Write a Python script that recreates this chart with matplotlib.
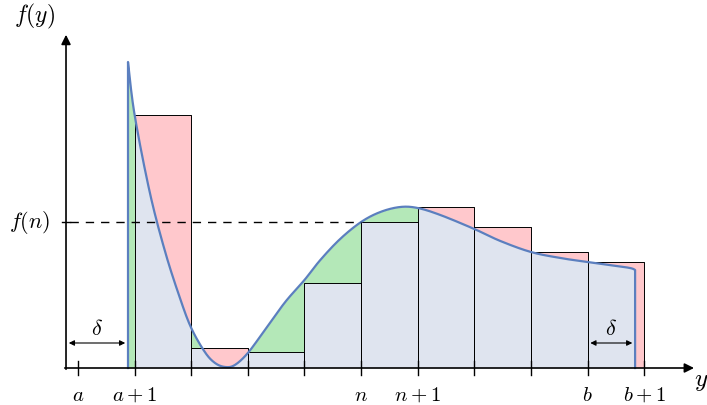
import numpy as np
import matplotlib.pyplot as plt

plt.rcParams['mathtext.fontset'] = 'cm'

# curve samples (x in integer units, f in arbitrary units)
cx = [1.883, 2.0, 2.27, 2.54, 2.80, 3.0, 3.24, 3.42, 3.60, 3.77, 4.0, 4.30, 4.66, 5.0,
      5.28, 5.63, 6.0, 6.34, 6.69, 7.0, 7.40, 8.0, 8.46, 9.0, 9.52, 10.0, 10.40, 10.75, 10.84]
cy = [3.06, 2.53, 1.75, 1.16, 0.70, 0.40, 0.16, 0.05, 0.01, 0.03, 0.15, 0.38, 0.66, 0.88,
      1.08, 1.29, 1.46, 1.56, 1.61, 1.60, 1.53, 1.39, 1.27, 1.16, 1.10, 1.06, 1.03, 1.00, 0.98]
rect_k = [2, 3, 4, 5, 6, 7, 8, 9, 10]
rect_h = [2.53, 0.20, 0.16, 0.85, 1.46, 1.61, 1.41, 1.16, 1.06]
tick_x = [1, 2, 3, 4, 5, 6, 7, 8, 9, 10, 11]
tick_lab = {1: '$a$', 2: '$a+1$', 6: '$n$', 7: '$n+1$', 10: '$b$', 11: '$b+1$'}
fn = 1.46

PINK, GREEN, BLUE, LINE = '#ffc8cc', '#b4e8b8', '#dfe4ef', '#5b7fbf'

def catmull(xs, ys, n=20):
    xs, ys = np.asarray(xs), np.asarray(ys)
    px = np.r_[xs[0], xs, xs[-1]]
    py = np.r_[ys[0], ys, ys[-1]]
    ox, oy = [], []
    for i in range(1, len(px) - 2):
        t = np.linspace(0, 1, n, endpoint=False)
        for p, o in ((px, ox), (py, oy)):
            p0, p1, p2, p3 = p[i-1], p[i], p[i+1], p[i+2]
            o.extend(0.5 * (2*p1 + (-p0+p2)*t + (2*p0-5*p1+4*p2-p3)*t**2 + (-p0+3*p1-3*p2+p3)*t**3))
    ox.append(xs[-1]); oy.append(ys[-1])
    return np.array(ox), np.array(oy)

sx, sy = catmull(cx, cy)

fig = plt.figure(figsize=(7.07, 4.05), dpi=100)
ax = fig.add_axes([0, 0, 1, 1])
ax.set_xlim(-0.378, 12.11)
ax.set_ylim(-0.37, 3.68)
ax.axis('off')

def f(x):
    return np.interp(x, sx, sy)

# first sliver before a+1
xx = np.linspace(cx[0], 2, 20)
ax.fill_between(xx, 0, f(xx), color=GREEN, lw=0)
for k, h in zip(rect_k, rect_h):
    xe = min(k + 1, cx[-1])
    xx = np.linspace(k, xe, 200)
    yy = f(xx)
    ax.fill_between(xx, 0, np.minimum(yy, h), color=BLUE, lw=0)
    ax.fill_between(xx, h, yy, where=yy > h, color=GREEN, lw=0, interpolate=True)
    ax.fill_between(xx, yy, h, where=yy < h, color=PINK, lw=0, interpolate=True)
    if xe < k + 1:
        ax.fill_between([xe, k + 1], 0, h, color=PINK, lw=0)
    ax.plot([k, k, k + 1, k + 1], [0, h, h, 0], color='k', lw=0.7)

ax.plot(np.r_[cx[0], sx, cx[-1]], np.r_[0, sy, 0], color=LINE, lw=1.6)

# axes
ax.annotate('', xy=(11.93, 0), xytext=(0.717, 0),
            arrowprops=dict(arrowstyle='-|>', color='k', lw=1.2, mutation_scale=14))
ax.annotate('', xy=(0.788, 3.36), xytext=(0.788, -0.04),
            arrowprops=dict(arrowstyle='-|>', color='k', lw=1.2, mutation_scale=14))
for t in tick_x:
    ax.plot([t, t], [-0.07, 0.07], color='k', lw=1)
    if t in tick_lab:
        ax.text(t, -0.27, tick_lab[t], ha='center', va='center', fontsize=15)
ax.plot([0.72, 0.86], [fn, fn], color='k', lw=1)
ax.plot([0.86, 6], [fn, fn], color='k', lw=1, ls=(0, (6, 5)))
ax.text(0.15, fn, '$f(n)$', ha='center', va='center', fontsize=16)
ax.text(0.24, 3.52, '$f(y)$', ha='center', va='center', fontsize=17)
ax.text(12.0, -0.13, '$y$', ha='center', va='center', fontsize=18)

# delta markers
for x0, x1 in ((0.788, cx[0]), (10, cx[-1])):
    ax.annotate('', xy=(x0, 0.25), xytext=(x1, 0.25),
                arrowprops=dict(arrowstyle='<|-|>', color='k', lw=0.8, mutation_scale=8))
    ax.text((x0 + x1) / 2, 0.39, r'$\delta$', ha='center', va='center', fontsize=16)

fig.savefig('out.png', dpi=100)
